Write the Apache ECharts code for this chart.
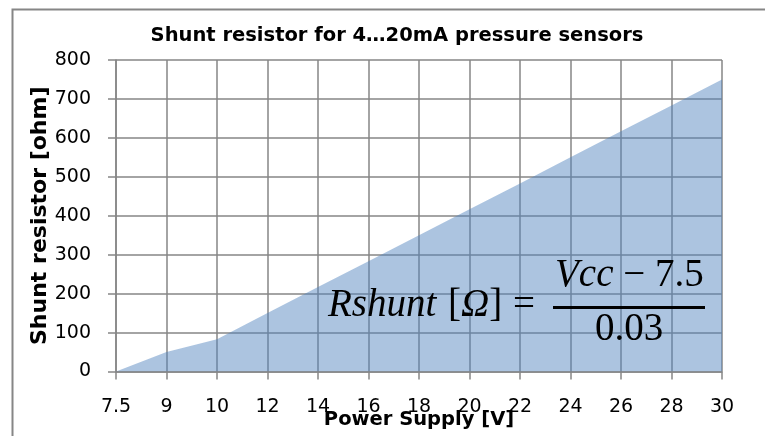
<!DOCTYPE html>
<html>
<head>
<meta charset="utf-8">
<script src="https://cdn.jsdelivr.net/npm/echarts@6/dist/echarts.min.js"></script>
<style>html,body{margin:0;padding:0;background:#fff;}#c{width:765px;height:436px;}</style>
</head>
<body>
<div id="c"></div>
<script>
const categories = ['7.5','9','10','12','14','16','18','20','22','24','26','28','30'];
const shuntValues = [0, 50, 83, 150, 217, 283, 350, 417, 483, 550, 617, 683, 750];
const yTicks = [0, 100, 200, 300, 400, 500, 600, 700, 800];

const chart = echarts.init(document.getElementById('c'), null, {renderer: 'canvas'});
const gray = '#868686';
const font = '"DejaVu Sans", sans-serif';
const serif = '"Liberation Serif", serif';
const it = {fontFamily: serif, fontStyle: 'italic', fontSize: 39, fill: '#000'};
const up = {fontFamily: serif, fontSize: 39, fill: '#000'};
chart.setOption({
  animation: false,
  title: {
    text: 'Shunt resistor for 4…20mA pressure sensors',
    left: 392, top: 21, textAlign: 'center',
    textStyle: {fontFamily: font, fontWeight: 'bold', fontSize: 19.5, color: '#000'}
  },
  grid: {left: 116, right: 43, top: 60, bottom: 64.5, outerBoundsMode: 'none', containLabel: false},
  xAxis: {
    type: 'category', data: categories, boundaryGap: false,
    name: 'Power Supply [V]', nameLocation: 'middle', nameGap: 48, nameMoveOverlap: false,
    nameTextStyle: {fontFamily: font, fontWeight: 'bold', fontSize: 19.5, color: '#000', verticalAlign: 'middle'},
    axisLine: {lineStyle: {color: gray, width: 1.5}},
    axisTick: {show: true, alignWithLabel: true, length: 8, lineStyle: {color: gray, width: 1.5}, interval: 0},
    axisLabel: {fontFamily: font, fontSize: 19, color: '#000', margin: 26, interval: 0},
    splitLine: {show: true, interval: 0, lineStyle: {color: gray, width: 1.5}}
  },
  yAxis: {
    type: 'value', min: yTicks[0], max: yTicks[yTicks.length - 1], interval: 100,
    name: 'Shunt resistor [ohm]', nameLocation: 'middle', nameGap: 65, nameMoveOverlap: false,
    nameTextStyle: {fontFamily: font, fontWeight: 'bold', fontSize: 22, color: '#000'},
    axisLine: {show: true, lineStyle: {color: gray, width: 1.5}},
    axisTick: {show: true, length: 8, lineStyle: {color: gray, width: 1.5}},
    axisLabel: {fontFamily: font, fontSize: 19, color: '#000', margin: 25},
    splitLine: {show: true, lineStyle: {color: gray, width: 1.5}}
  },
  series: [{
    type: 'line', data: shuntValues, symbol: 'none',
    lineStyle: {width: 0},
    areaStyle: {color: '#4F81BD', opacity: 0.47}
  }],
  graphic: [
    {type: 'rect', z: 100, shape: {x: 12.5, y: 9.5, width: 800, height: 500}, style: {fill: null, stroke: gray, lineWidth: 2}, silent: true},
    {type: 'text', z: 100, style: Object.assign({x: 328, y: 306, verticalAlign: 'middle', text: 'Rshunt'}, it)},
    {type: 'text', z: 100, style: {x: 448, y: 306, verticalAlign: 'middle',
      text: '{n|[}{i|Ω}{n|]}', rich: {i: it, n: up}}},
    {type: 'text', z: 100, style: Object.assign({x: 513, y: 306, verticalAlign: 'middle', text: '='}, up)},
    {type: 'text', z: 100, style: {x: 555, y: 276, verticalAlign: 'middle',
      text: '{i|Vcc}{n| − 7.5}', rich: {i: it, n: up}}},
    {type: 'line', z: 100, shape: {x1: 553, y1: 307.5, x2: 705, y2: 307.5}, style: {stroke: '#000', lineWidth: 3}},
    {type: 'text', z: 100, style: Object.assign({x: 595, y: 330, verticalAlign: 'middle', text: '0.03'}, up)}
  ]
});
</script>
</body>
</html>
